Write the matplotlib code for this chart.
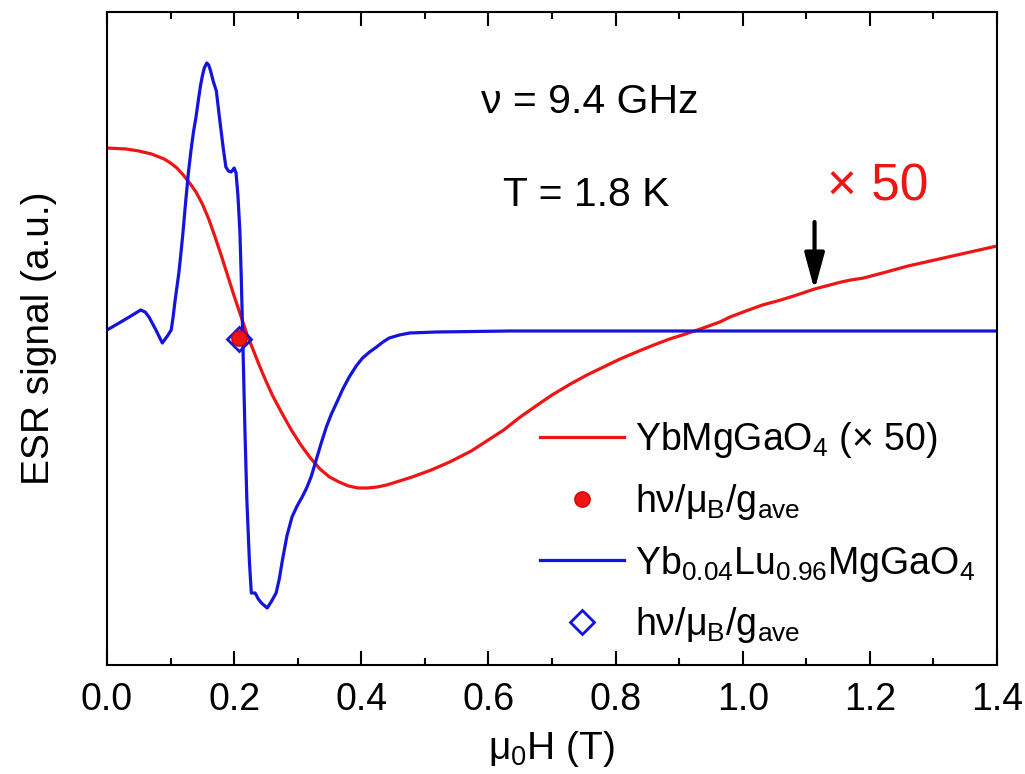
import numpy as np
import matplotlib
matplotlib.use("Agg")
import matplotlib.pyplot as plt
from matplotlib.ticker import MultipleLocator

plt.rcParams['font.family'] = ['Liberation Sans', 'DejaVu Sans']
plt.rcParams['mathtext.fontset'] = 'custom'
plt.rcParams['mathtext.rm'] = 'Liberation Sans'
plt.rcParams['mathtext.it'] = 'Liberation Sans:italic'
plt.rcParams['mathtext.bf'] = 'Liberation Sans:bold'

# ---- data (field in T, signal in a.u.) ----
field_pure = [0.00, 0.03, 0.05, 0.07, 0.09, 0.10, 0.11, 0.12, 0.13, 0.14,
              0.15, 0.16, 0.17, 0.18, 0.19, 0.20, 0.21, 0.22, 0.23, 0.24,
              0.25, 0.26, 0.275, 0.29, 0.305, 0.32, 0.335, 0.35, 0.365, 0.38,
              0.395, 0.41, 0.425, 0.44, 0.46, 0.48, 0.51, 0.539, 0.573, 0.59,
              0.624, 0.65, 0.677, 0.70, 0.729, 0.755, 0.781, 0.807, 0.833, 0.86,
              0.885, 0.905, 0.929, 0.964, 0.98, 1.005, 1.031, 1.06, 1.085, 1.113,
              1.137, 1.155, 1.17, 1.19, 1.22, 1.26, 1.295, 1.33, 1.365, 1.40]
signal_pure = [183, 182, 180, 177, 172, 168, 163, 156, 148, 139,
               127, 112, 94, 75, 55, 35, 16, -3, -19, -35,
               -50, -64, -82, -99, -114, -127, -138, -146, -151, -155,
               -157, -157, -156, -154, -150, -146, -139, -131, -120, -113,
               -99, -86, -74, -64, -53, -44, -36, -28, -21, -14,
               -8, -4, 1, 9, 14, 20, 26, 31, 36, 42,
               46, 49, 51, 53, 58, 65, 70, 75, 80, 85]

field_dilute = [0.000, 0.019, 0.035, 0.053, 0.060, 0.066, 0.077, 0.087, 0.095, 0.101,
                0.104, 0.107, 0.110, 0.113, 0.116, 0.119, 0.124, 0.128, 0.132, 0.136,
                0.140, 0.144, 0.147, 0.150, 0.153, 0.157, 0.160, 0.163, 0.167, 0.172,
                0.177, 0.183, 0.187, 0.191, 0.195, 0.198, 0.200, 0.203, 0.206, 0.209,
                0.211, 0.213, 0.217, 0.220, 0.224, 0.227, 0.233, 0.238, 0.243, 0.252,
                0.259, 0.266, 0.271, 0.276, 0.283, 0.291, 0.299, 0.307, 0.314, 0.321,
                0.329, 0.337, 0.345, 0.353, 0.361, 0.371, 0.381, 0.392, 0.402, 0.413,
                0.424, 0.434, 0.444, 0.460, 0.476, 0.518, 0.633, 0.80, 1.00, 1.20, 1.40]
signal_dilute = [1, 8, 14, 21, 19, 14, 1, -12, -5, 1,
                 14, 30, 44, 58, 76, 95, 131, 158, 180, 199,
                 214, 232, 245, 255, 263, 268, 266, 260, 250, 240,
                 213, 182, 164, 160, 159, 161, 163, 158, 135, 100,
                 58, 8, -100, -169, -230, -262, -262, -268, -272, -277,
                 -270, -262, -248, -229, -205, -186, -175, -166, -157, -146,
                 -129, -112, -96, -83, -72, -58, -46, -35, -27, -21,
                 -16, -11, -7, -4, -2, -1, 0, 0, 0, 0, 0]

# h nu / mu_B / g_ave positions
res_pure = (0.207, -7)
res_dilute = (0.208, -8)

red = '#ee1515'
blue = '#1414dc'

fig = plt.figure(figsize=(10.25, 7.74), dpi=100)
ax = fig.add_axes([107 / 1025, 109 / 774, 890 / 1025, 653 / 774])

ax.plot(field_pure, signal_pure, color=red, lw=2.3, label=r'YbMgGaO$\mathrm{_4}$ (× 50)')
ax.plot([res_pure[0]], [res_pure[1]], 'o', ms=11, mfc=red, mec='#d00000', mew=1,
        label=r'$\mathrm{hν/μ_B/g_{ave}}$', zorder=5)
ax.plot(field_dilute, signal_dilute, color=blue, lw=2.3,
        label=r'Yb$\mathrm{_{0.04}}$Lu$\mathrm{_{0.96}}$MgGaO$\mathrm{_4}$')
ax.plot([res_dilute[0]], [res_dilute[1]], 'D', ms=12, mfc='none', mec=blue, mew=2,
        label=r'$\mathrm{hν/μ_B/g_{ave}}$', zorder=4)

ax.set_xlim(0, 1.4)
ax.set_ylim(-334, 319)
ax.set_yticks([])
ax.xaxis.set_major_locator(MultipleLocator(0.2))
ax.xaxis.set_minor_locator(MultipleLocator(0.1))
ax.tick_params(axis='x', which='both', direction='in', top=True, bottom=True,
               labelsize=27, pad=12, width=1.5)
ax.tick_params(axis='x', which='major', length=10)
ax.tick_params(axis='x', which='minor', length=5)
for s in ax.spines.values():
    s.set_linewidth(1.5)

ax.set_xlabel(r'$\mathrm{μ_0}$H (T)', fontsize=28, labelpad=8)
ax.set_ylabel('ESR signal (a.u.)', fontsize=28, labelpad=36)

ax.text(0.759, 229, 'ν = 9.4 GHz', fontsize=29.5, ha='center', va='center')
ax.text(0.754, 136, 'T = 1.8 K', fontsize=29.5, ha='center', va='center')
ax.text(1.213, 144, '× 50', fontsize=37, color=red, ha='center', va='center')

ax.annotate('', xy=(1.113, 41), xytext=(1.113, 109),
            arrowprops=dict(arrowstyle='-|>,head_length=1.1,head_width=0.3',
                            mutation_scale=20, lw=3, color='black',
                            shrinkA=0, shrinkB=0))

ax.legend(loc='upper left', bbox_to_anchor=(540 / 1025, 1 - 420 / 774),
          bbox_transform=fig.transFigure, frameon=False, fontsize=27,
          handlelength=2.25, handletextpad=0.28, labelspacing=0.58,
          borderpad=0, borderaxespad=0, numpoints=1)

fig.savefig('out.png', dpi=100)
